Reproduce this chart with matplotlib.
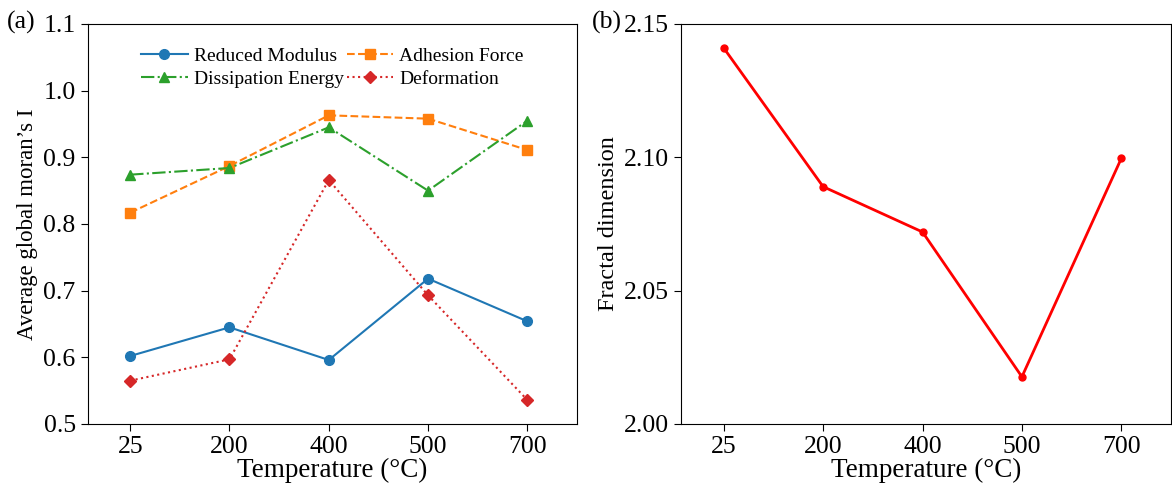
import numpy as np
import matplotlib
matplotlib.use("Agg")
import matplotlib.pyplot as plt

plt.rcParams['font.family'] = ['Liberation Serif', 'DejaVu Serif']
plt.rcParams['mathtext.fontset'] = 'stix'

# Daten
temperatures = ['25', '200', '400', '500', '700']
reduced_modulus = [0.602, 0.645, 0.596, 0.718, 0.654]
adhesion_force = [0.817, 0.887, 0.963, 0.958, 0.911]
dissipation_energy = [0.874, 0.884, 0.945, 0.850, 0.955]
deformation = [0.565, 0.597, 0.866, 0.693, 0.536]
fractal_dimension = [2.141, 2.089, 2.072, 2.0177, 2.0996]

x = np.arange(len(temperatures))

fig = plt.figure(figsize=(11.72, 4.91), dpi=100)
ax1 = fig.add_axes([87.5 / 1172, 67 / 491, 489.5 / 1172, 400 / 491])
ax2 = fig.add_axes([681 / 1172, 67 / 491, 490 / 1172, 400 / 491])

# (a) Moran's I
l1, = ax1.plot(x, reduced_modulus, '-o', color='tab:blue', markersize=7, lw=1.5, label='Reduced Modulus')
l2, = ax1.plot(x, adhesion_force, '--s', color='tab:orange', markersize=6.5, lw=1.5, label='Adhesion Force')
l3, = ax1.plot(x, dissipation_energy, '-.^', color='tab:green', markersize=7.5, lw=1.5, label='Dissipation Energy')
l4, = ax1.plot(x, deformation, ':D', color='tab:red', markersize=6.5, lw=1.5, label='Deformation')
ax1.set_xlim(-0.43, 4.5)
ax1.set_ylim(0.5, 1.1)
ax1.set_yticks(np.arange(0.5, 1.11, 0.1))
ax1.set_yticklabels(['%.1f' % v for v in np.arange(0.5, 1.11, 0.1)])
ax1.set_xticks(x)
ax1.set_xticklabels(temperatures)
ax1.set_xlabel('Temperature (°C)', fontsize=19.5, labelpad=0)
ax1.set_ylabel('Average global moran\u2019s I', fontsize=16.5, labelpad=4)
ax1.tick_params(labelsize=18.5, length=5)
# Reihenfolge so, dass Zeile 1 = RM, AF und Zeile 2 = DE, Def
ax1.legend([l1, l3, l2, l4], [l.get_label() for l in [l1, l3, l2, l4]],
           loc='upper center', ncol=2, frameon=False, fontsize=14,
           handlelength=2.4, columnspacing=0.15, handletextpad=0.3, labelspacing=0.25,
           bbox_to_anchor=(0.5, 0.985))

# (b) Fraktale Dimension
ax2.plot(x, fractal_dimension, '-o', color='red', markersize=5, lw=2)
ax2.set_xlim(-0.43, 4.5)
ax2.set_ylim(2.00, 2.15)
ax2.set_yticks([2.00, 2.05, 2.10, 2.15])
ax2.set_yticklabels(['2.00', '2.05', '2.10', '2.15'])
ax2.set_xticks(x)
ax2.set_xticklabels(temperatures)
ax2.set_xlabel('Temperature (°C)', fontsize=19.5, labelpad=0)
ax2.set_ylabel('Fractal dimension', fontsize=17.5, labelpad=4)
ax2.tick_params(labelsize=18.5, length=5)

fig.text(7 / 1172, 1 - 22 / 491, '(a)', fontsize=18.5, va='center', ha='left')
fig.text(592 / 1172, 1 - 22 / 491, '(b)', fontsize=18.5, va='center', ha='left')

fig.savefig('out.png', dpi=100)
